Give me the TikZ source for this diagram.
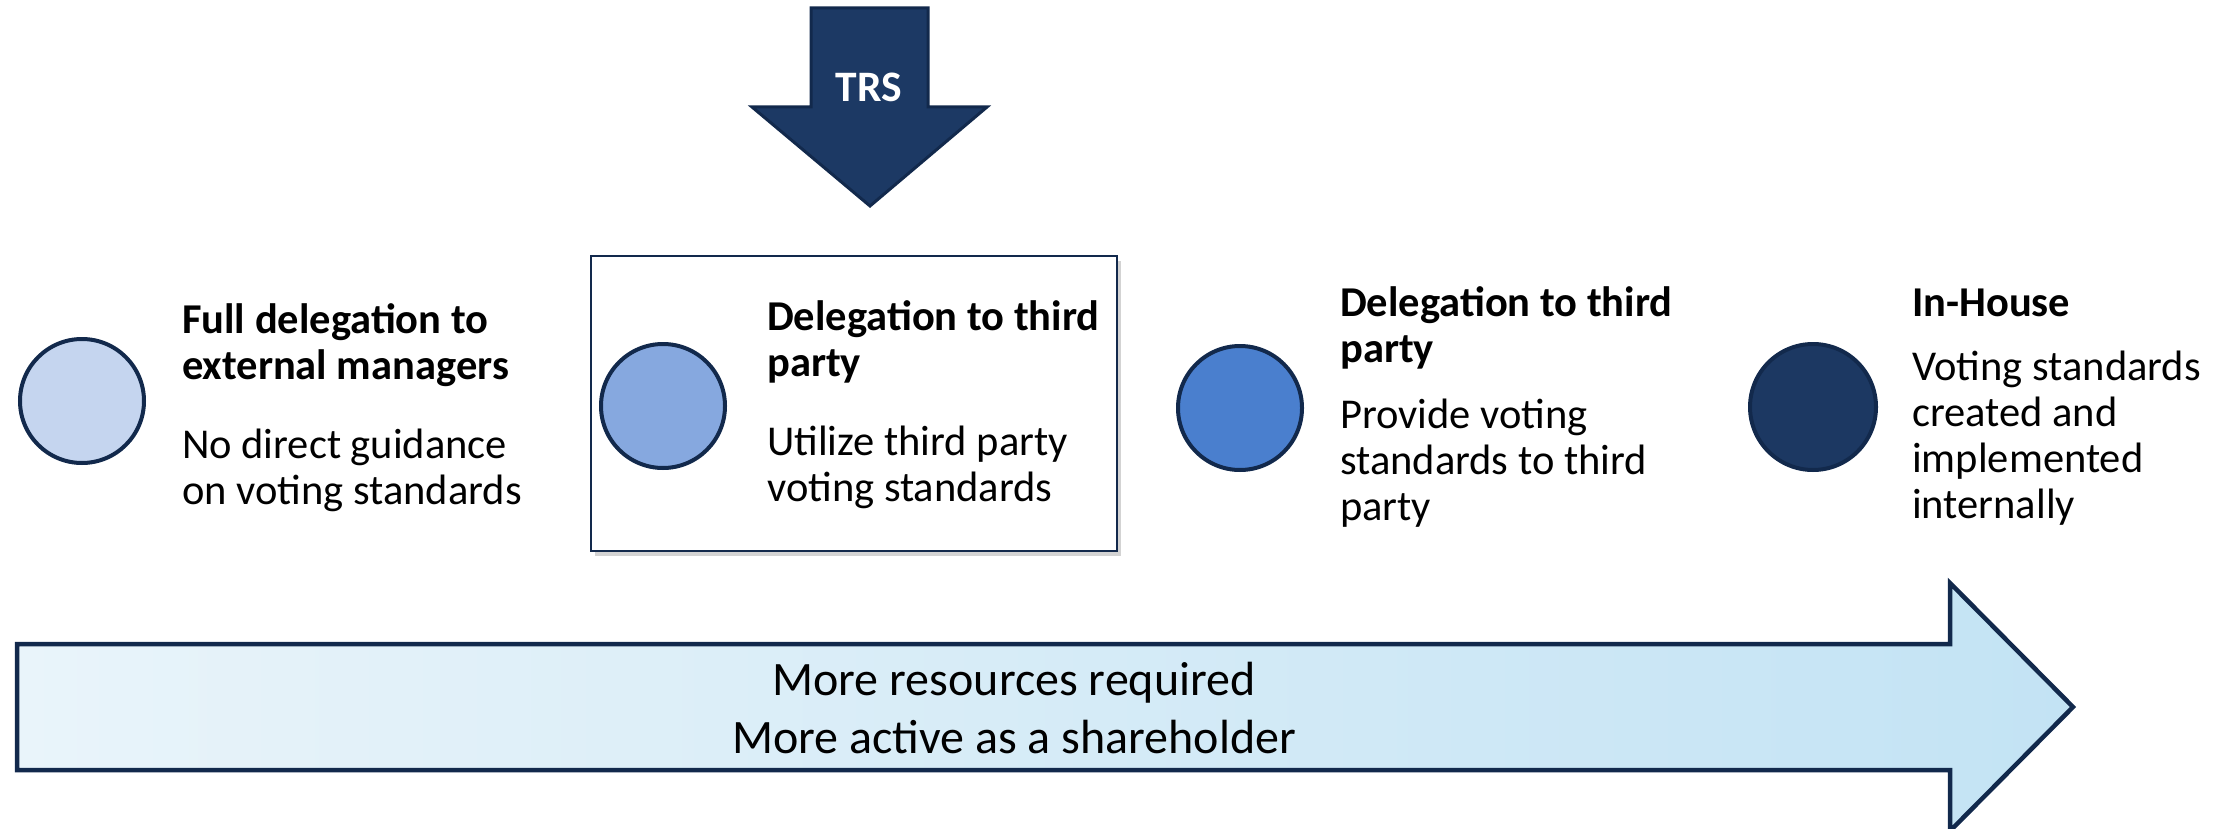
\documentclass[tikz,border=0pt]{standalone}
\usepackage{fontspec}
\setmainfont{Carlito}
\usepackage{tikz}
\usetikzlibrary{shapes,positioning,shadows}
\definecolor{trsnavy}{RGB}{28,57,100}
\definecolor{trsline}{RGB}{18,41,76}
\definecolor{stageA}{RGB}{197,213,239}
\definecolor{stageB}{RGB}{134,168,223}
\definecolor{stageC}{RGB}{74,127,206}
\definecolor{stageD}{RGB}{28,56,98}
\definecolor{barleft}{RGB}{233,244,250}
\definecolor{barright}{RGB}{195,227,244}
\tikzstyle{stage} = [circle, minimum size=124pt, draw=trsline, line width=4pt]
\tikzstyle{heading} = [anchor=base west, align=left, inner sep=0pt, font=\fontsize{42.5}{46}\selectfont\bfseries]
\tikzstyle{body} = [anchor=base west, align=left, inner sep=0pt, font=\fontsize{42.5}{46}\selectfont]
\tikzstyle{framebox} = [rectangle, draw=trsline, line width=2pt, fill=white, minimum width=526pt, minimum height=295pt, drop shadow={shadow xshift=4pt, shadow yshift=-5pt, opacity=0.35}]

\begin{document}
\begin{tikzpicture}[x=1pt, y=-1pt]
\useasboundingbox (0,0) rectangle (2232,829);
% TRS arrow
\filldraw[fill=trsnavy, draw=trsline, line width=3pt, line join=miter]
  (811,8) -- (928,8) -- (928,107) -- (987,107) -- (870,206) -- (752,107) -- (811,107) -- cycle;
\node (trs) [font=\fontsize{43.5}{46}\selectfont\bfseries, text=white] at (869,87) {TRS};

% highlighted option
\node (frame) [framebox] at (854,403.5) {};

% options (base = last line)
\node (c1) [stage, fill=stageA] at (82,401) {};
\node (h1) [heading] at (182,379) {Full delegation to\\external managers};
\node (t1) [body] at (182,504) {No direct guidance\\on voting standards};

\node (c2) [stage, fill=stageB] at (663,406) {};
\node (h2) [heading] at (767,376) {Delegation to third\\party};
\node (t2) [body] at (767,501) {Utilize third party\\voting standards};

\node (c3) [stage, fill=stageC] at (1240,408) {};
\node (h3) [heading] at (1340,362) {Delegation to third\\party};
\node (t3) [body] at (1340,520) {Provide voting\\standards to third\\party};

\node (c4) [stage, fill=stageD, minimum size=126pt] at (1813,407) {};
\node (h4) [heading] at (1912,316) {In-House};
\node (t4) [body] at (1912,518) {Voting standards\\created and\\implemented\\internally};

% resources arrow
\shade[left color=barleft, right color=barright]
  (17,644) -- (1950,644) -- (1950,583) -- (2073,707) -- (1950,831) -- (1950,770) -- (17,770) -- cycle;
\draw[draw=trsline, line width=4.5pt, line join=miter]
  (17,644) -- (1950,644) -- (1950,583) -- (2073,707) -- (1950,831) -- (1950,770) -- (17,770) -- cycle;
\node (more) [font=\fontsize{48}{58}\selectfont, align=center] at (1014,708) {More resources required\\More active as a shareholder};
\end{tikzpicture}
\end{document}
